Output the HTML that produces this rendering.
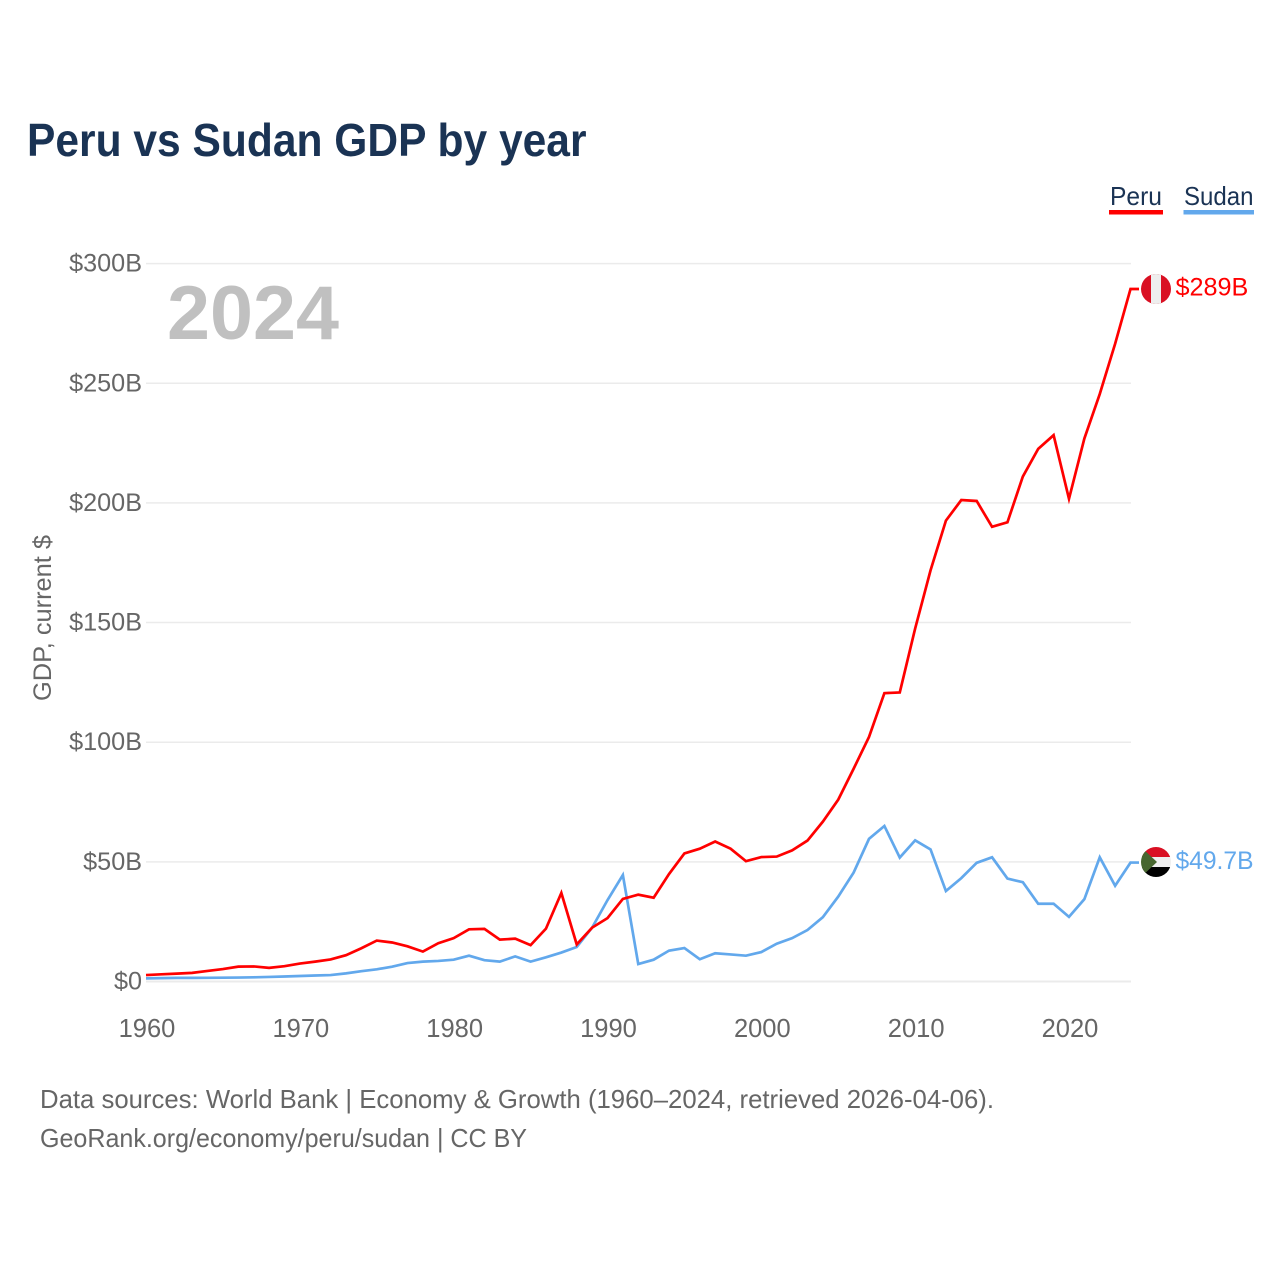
<!DOCTYPE html>
<html lang="en">
<head>
<meta charset="utf-8">
<title>Peru vs Sudan GDP by year</title>
<style>
html,body{margin:0;padding:0;background:#fff;}
svg{display:block;font-family:"Liberation Sans",sans-serif;}
</style>
</head>
<body>
<svg id="chart" width="1280" height="1280" viewBox="0 0 1280 1280" xmlns="http://www.w3.org/2000/svg">
  <rect x="0" y="0" width="1280" height="1280" fill="#ffffff"/>
  <text x="27" y="156" font-size="46" font-weight="700" fill="#1a3354" textLength="559.5" lengthAdjust="spacingAndGlyphs">Peru vs Sudan GDP by year</text>

  <g>
    <text x="1110" y="205" font-size="26" fill="#1a3354" textLength="52" lengthAdjust="spacingAndGlyphs">Peru</text>
    <rect x="1109" y="210" width="54" height="4.5" fill="#ff0000"/>
  </g>
  <g>
    <text x="1184" y="205" font-size="26" fill="#1a3354" textLength="69.5" lengthAdjust="spacingAndGlyphs">Sudan</text>
    <rect x="1183.5" y="210" width="70.5" height="4.5" fill="#62a8ec"/>
  </g>

  <text transform="translate(51,618) rotate(-90)" text-anchor="middle" font-size="25" fill="#666666" textLength="166" lengthAdjust="spacingAndGlyphs">GDP, current $</text>

  <g id="gridlines"></g>
  <g id="y-ticks"></g>
  <g id="x-ticks"></g>

  <text x="167" y="339" font-size="76" font-weight="700" fill="#c0c0c0" textLength="172" lengthAdjust="spacingAndGlyphs">2024</text>

  <g id="series"></g>

  <defs>
    <clipPath id="flag-clip-peru"><circle cx="1156" cy="289" r="15"/></clipPath>
    <clipPath id="flag-clip-sudan"><circle cx="1156" cy="862" r="15"/></clipPath>
  </defs>
  <g clip-path="url(#flag-clip-peru)">
    <rect x="1141" y="274" width="30" height="30" fill="#d91023"/>
    <rect x="1151" y="274" width="10" height="30" fill="#eeeeee"/>
  </g>
  <g clip-path="url(#flag-clip-sudan)">
    <rect x="1141" y="847" width="30" height="10" fill="#d91023"/>
    <rect x="1141" y="857" width="30" height="10" fill="#eeeeee"/>
    <rect x="1141" y="867" width="30" height="10" fill="#000000"/>
    <polygon points="1141,847 1157,862 1141,877" fill="#47662f"/>
  </g>
  <text x="1175.5" y="295.5" font-size="25.2" fill="#ff0000">$289B</text>
  <text x="1175.5" y="869" font-size="25.2" fill="#62a8ec" textLength="78" lengthAdjust="spacingAndGlyphs">$49.7B</text>

  <text x="40" y="1108" font-size="26" fill="#666666" textLength="954" lengthAdjust="spacingAndGlyphs">Data sources: World Bank | Economy &amp; Growth (1960–2024, retrieved 2026-04-06).</text>
  <text x="40" y="1147" font-size="26" fill="#666666" textLength="487" lengthAdjust="spacingAndGlyphs">GeoRank.org/economy/peru/sudan | CC BY</text>
</svg>
<script>
const startYear = 1960;
const peruValues = [2.7,3.0,3.3,3.6,4.4,5.2,6.2,6.3,5.7,6.4,7.5,8.3,9.2,11.0,13.9,17.1,16.3,14.7,12.5,16.0,18.1,21.8,22.0,17.5,17.9,15.2,22.1,37.0,15.5,22.5,26.5,34.5,36.3,35.0,44.9,53.5,55.5,58.5,55.5,50.3,52.0,52.2,54.8,58.9,66.8,76.0,88.9,102.2,120.5,120.8,147.5,171.8,192.6,201.2,200.8,190.0,191.9,211.0,222.6,228.3,201.7,226.9,245.5,266.5,289.4];
const sudanValues = [1.3,1.4,1.5,1.5,1.55,1.6,1.65,1.75,1.9,2.1,2.3,2.5,2.7,3.4,4.3,5.1,6.2,7.7,8.3,8.6,9.1,10.8,8.9,8.3,10.5,8.3,10.1,12.1,14.4,22.5,34.0,44.5,7.3,9.1,12.9,14.0,9.3,11.8,11.3,10.8,12.3,15.8,18.1,21.5,26.9,35.5,45.5,59.6,65.0,51.8,59.0,55.2,37.8,43.2,49.6,51.9,43.0,41.5,32.5,32.5,27.0,34.4,51.9,40.0,49.7];
const yTickValues = [0,50,100,150,200,250,300];
const yTickLabels = ["$0","$50B","$100B","$150B","$200B","$250B","$300B"];
const xTickYears = [1960,1970,1980,1990,2000,2010,2020];
const xTickLabels = ["1960","1970","1980","1990","2000","2010","2020"];

const SVG_NS = "http://www.w3.org/2000/svg";
const plotLeft = 147, plotRight = 1131, pxPerYear = 15.383;
const zeroY = 981.5, pxPerUnit = 2.393;
function xScale(year){ return plotLeft + (year - startYear) * pxPerYear; }
function yScale(value){ return zeroY - value * pxPerUnit; }
function make(tag, attrs){
  const el = document.createElementNS(SVG_NS, tag);
  for (const key in attrs) el.setAttribute(key, attrs[key]);
  return el;
}

const gridGroup = document.getElementById("gridlines");
const yTickGroup = document.getElementById("y-ticks");
yTickValues.forEach(function(v, i){
  const line = make("line", {x1: plotLeft - 1, x2: plotRight, y1: yScale(v), y2: yScale(v), stroke: "#ebebeb", "stroke-width": v === 0 ? 2 : 1.5});
  
  
  gridGroup.appendChild(line);
  const label = make("text", {x: 142, y: yScale(v) + 8, "text-anchor": "end", "font-size": 25.2, fill: "#666666"});
  label.textContent = yTickLabels[i];
  
  
  yTickGroup.appendChild(label);
});

const xTickGroup = document.getElementById("x-ticks");
xTickYears.forEach(function(year, i){
  const label = make("text", {x: xScale(year), y: 1037, "text-anchor": "middle", "font-size": 25.5, fill: "#666666"});
  label.textContent = xTickLabels[i];
  
  
  xTickGroup.appendChild(label);
});

function linePoints(values){
  const pts = values.map(function(v, i){ return (xScale(startYear + i) - 1).toFixed(2) + "," + yScale(v).toFixed(2); });
  pts.push("1139," + yScale(values[values.length - 1]).toFixed(2));
  return pts.join(" ");
}
const seriesGroup = document.getElementById("series");
const sudanLine = make("polyline", {points: linePoints(sudanValues), fill: "none", stroke: "#62a8ec", "stroke-width": 2.7, "stroke-linejoin": "miter", "stroke-miterlimit": 6});


seriesGroup.appendChild(sudanLine);
const peruLine = make("polyline", {points: linePoints(peruValues), fill: "none", stroke: "#ff0000", "stroke-width": 2.7, "stroke-linejoin": "miter", "stroke-miterlimit": 6});


seriesGroup.appendChild(peruLine);
</script>
</body>
</html>
